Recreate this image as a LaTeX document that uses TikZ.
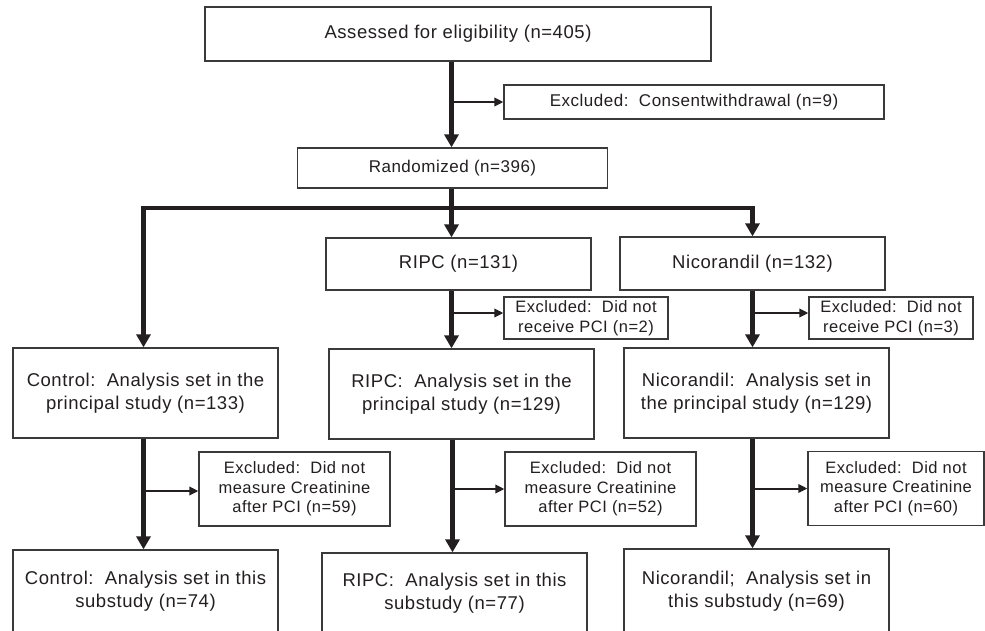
\documentclass[tikz,border=0pt]{standalone}
\usepackage{fontspec}
\setmainfont[LetterSpace=3]{Liberation Sans}
\usetikzlibrary{arrows.meta}
\definecolor{ink}{HTML}{231F20}
\definecolor{boxline}{HTML}{3A3A3A}
\newcommand{\mainfs}{\fontsize{18.5}{23}\selectfont}
\newcommand{\randfs}{\fontsize{17}{21}\selectfont}
\newcommand{\exfs}{\fontsize{16.5}{19.7}\selectfont}
\begin{document}
\begin{tikzpicture}[x=1pt,y=-1pt,
  flowbox/.style={draw=boxline, line width=1.3pt, fill=white, align=center,
    inner sep=0pt, text=ink, font=\mainfs},
  exbox/.style={flowbox, font=\exfs},
  thickarr/.style={draw=ink, line width=4.6pt, line join=miter,
    -{Triangle[width=14pt,length=13pt]}},
  thinarr/.style={draw=ink, line width=2pt,
    -{Triangle[width=8.5pt,length=9pt]}}]
\useasboundingbox (0,0) rectangle (985,630);
\clip (0,0) rectangle (985,630);
\fill[white] (0,0) rectangle (985,630);

\coordinate (cA) at (143.5,0);
\coordinate (cB) at (451.5,0);
\coordinate (cC) at (752.5,0);
\coordinate (cR) at (452.5,0);
\coordinate (bar) at (451.5,208);

% boxes
\node[flowbox, minimum width=506pt, minimum height=54pt] (top) at (458,34)
  {Assessed for eligibility (n=405)};
\node[flowbox, font=\randfs, minimum width=380pt, minimum height=34pt] (consent) at (694,102)
  {Excluded:\ \ Consentwithdrawal (n=9)};
\node[flowbox, font=\randfs, minimum width=310pt, minimum height=40pt] (rand) at (452.5,168)
  {Randomized (n=396)};
\node[flowbox, minimum width=265pt, minimum height=52pt] (ripc) at (458.5,264)
  {RIPC (n=131)};
\node[flowbox, minimum width=265pt, minimum height=53pt] (nico) at (752.5,263.5)
  {Nicorandil (n=132)};
\node[exbox, minimum width=164pt, minimum height=42pt] (expcir) at (586,318)
  {Excluded:\ \ Did not\\receive PCI (n=2)};
\node[exbox, minimum width=164pt, minimum height=42pt] (expcin) at (891,318)
  {Excluded:\ \ Did not\\receive PCI (n=3)};
\node[flowbox, minimum width=265pt, minimum height=90pt] (ctrlp) at (145.5,393)
  {Control:\ \ Analysis set in the\\principal study (n=133)};
\node[flowbox, minimum width=265pt, minimum height=90pt] (ripcp) at (461.5,394)
  {RIPC:\ \ Analysis set in the\\principal study (n=129)};
\node[flowbox, minimum width=265pt, minimum height=90pt] (nicop) at (756.5,393)
  {Nicorandil:\ \ Analysis set in\\the principal study (n=129)};
\node[exbox, minimum width=191pt, minimum height=74pt] (excrc) at (294.5,489)
  {Excluded:\ \ Did not\\measure Creatinine\\after PCI (n=59)};
\node[exbox, minimum width=191pt, minimum height=74pt] (excrr) at (600.5,489)
  {Excluded:\ \ Did not\\measure Creatinine\\after PCI (n=52)};
\node[exbox, minimum width=176pt, minimum height=74pt] (excrn) at (896,488.5)
  {Excluded:\ \ Did not\\measure Creatinine\\after PCI (n=60)};
\node[flowbox, minimum width=265pt, minimum height=83pt] (ctrls) at (145.5,591.5)
  {Control:\ \ Analysis set in this\\substudy (n=74)};
\node[flowbox, minimum width=265pt, minimum height=80pt] (ripcs) at (454.5,593)
  {RIPC:\ \ Analysis set in this\\substudy (n=77)};
\node[flowbox, minimum width=265pt, minimum height=84pt] (nicos) at (756.5,591)
  {Nicorandil;\ \ Analysis set in\\this substudy (n=69)};

% main flow
\draw[thickarr] (top.south -| cB) -- (rand.north -| cB);
\draw[thinarr] (consent.west -| cB) -- (consent.west);
\draw[thickarr] (rand.south -| cB) -- (ripc.north -| cB);
\draw[thickarr] (bar) -- (bar -| cA) -- (ctrlp.north -| cA);
\draw[thickarr] (bar) -- (bar -| cC) -- (nico.north -| cC);

\draw[thickarr] (ripc.south -| cB) -- (ripcp.north -| cB);
\draw[thinarr] ([yshift=5pt]expcir.west -| cB) -- ([yshift=5pt]expcir.west);
\draw[thickarr] (nico.south -| cC) -- (nicop.north -| cC);
\draw[thinarr] ([yshift=5pt]expcin.west -| cC) -- ([yshift=5pt]expcin.west);

\draw[thickarr] (ctrlp.south -| cA) -- (ctrls.north -| cA);
\draw[thinarr] ([yshift=-2pt]excrc.west -| cA) -- ([yshift=-2pt]excrc.west);
\draw[thickarr] (ripcp.south -| cR) -- (ripcs.north -| cR);
\draw[thinarr] (excrr.west -| cR) -- (excrr.west);
\draw[thickarr] (nicop.south -| cC) -- (nicos.north -| cC);
\draw[thinarr] (excrn.west -| cC) -- (excrn.west);
\end{tikzpicture}
\end{document}
